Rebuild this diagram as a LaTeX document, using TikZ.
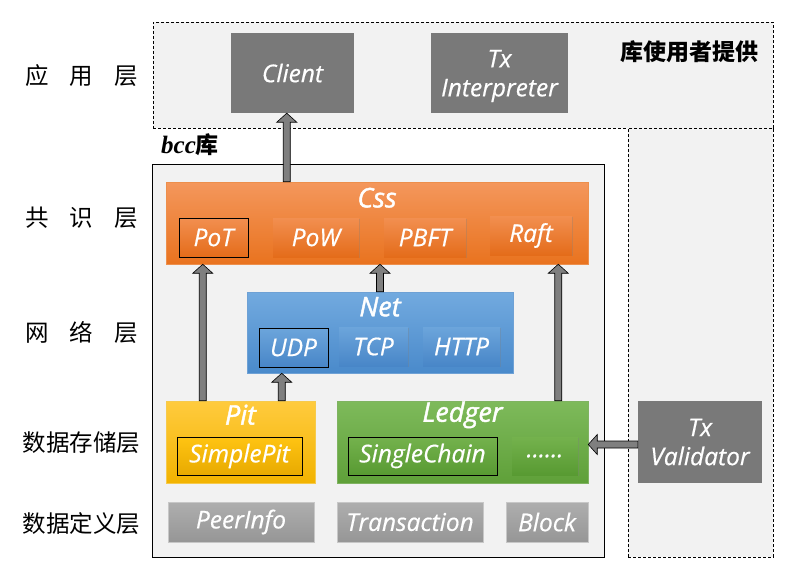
\documentclass[tikz,border=0pt]{standalone}
\usepackage{fontspec}
\setmainfont{Open Sans}[FakeBold=0.5]
\newfontfamily\titlefont[FakeBold=1.6]{Open Sans}
\newfontfamily\cjk{Noto Sans CJK SC}
\newfontfamily\bccfont{Liberation Serif}
\usetikzlibrary{shadows,calc}
\definecolor{bg}{HTML}{F2F2F2}
\definecolor{gbox}{HTML}{797979}
\definecolor{arrgray}{HTML}{7F7F7F}
\definecolor{orT}{HTML}{F4975C}
\definecolor{orB}{HTML}{E9731F}
\definecolor{orsT}{HTML}{F28F50}
\definecolor{orsB}{HTML}{E46C1A}
\definecolor{blT}{HTML}{72AADF}
\definecolor{blB}{HTML}{4A8ACB}
\definecolor{blsT}{HTML}{6CA5DB}
\definecolor{blsB}{HTML}{4886C8}
\definecolor{ywT}{HTML}{FFCB3E}
\definecolor{ywB}{HTML}{F2B300}
\definecolor{ywsT}{HTML}{FFC413}
\definecolor{ywsB}{HTML}{E8AA00}
\definecolor{grT}{HTML}{7EBA5B}
\definecolor{grB}{HTML}{5FA039}
\definecolor{grsT}{HTML}{74B24D}
\definecolor{grsB}{HTML}{589A32}
\definecolor{dgT}{HTML}{AEAEAE}
\definecolor{dgB}{HTML}{969696}
\newcommand\rbox[7]{\node[#1, minimum width={#5-#3}, minimum height={#6-#4}] (#2) at ({(#3+#5)/2},{(#4+#6)/2}) {#7};}
\newcommand\barrow[3]{%
  \coordinate (#1h) at ($(#3)!9pt!(#2)$);
  \draw[arrowst] ($(#2)!3.5pt!90:(#3)$) -- ($(#1h)!3.5pt!90:(#3)$) -- ($(#1h)!10pt!90:(#3)$) -- (#3)
    -- ($(#1h)!10pt!-90:(#3)$) -- ($(#1h)!3.5pt!-90:(#3)$) -- ($(#2)!3.5pt!-90:(#3)$) -- cycle;}
\tikzset{
  txt/.style={font=\itshape\fontsize{24.5}{29}\selectfont, text=white, align=center, inner sep=0pt},
  ttl/.style={font=\titlefont\itshape\fontsize{27}{30}\selectfont, text=white, inner sep=0pt},
  layer/.style={font=\cjk\fontsize{23.5}{28}\selectfont, text=black, inner sep=0pt},
  dashbox/.style={draw=black, dash pattern=on 3pt off 2pt, line width=0.6pt, fill=bg, inner sep=0pt},
  bccbox/.style={draw=black, line width=0.8pt, fill=bg, inner sep=0pt},
  userbox/.style={txt, fill=gbox},
  sh/.style={drop shadow={shadow xshift=1.3pt, shadow yshift=-1.3pt, opacity=0.35}},
  frame/.style={draw=black, line width=0.8pt},
  orbig/.style={txt, top color=orT, bottom color=orB, draw=orB!80!white, line width=0.5pt, sh},
  orsub/.style={txt, top color=orsT, bottom color=orsB, sh},
  blbig/.style={txt, top color=blT, bottom color=blB, draw=blB!80!white, line width=0.5pt, sh},
  blsub/.style={txt, top color=blsT, bottom color=blsB, sh},
  ywbig/.style={txt, top color=ywT, bottom color=ywB, draw=ywB!70!white, line width=0.5pt},
  ywsub/.style={txt, top color=ywsT, bottom color=ywsB, sh},
  grbig/.style={txt, top color=grT, bottom color=grB, draw=grB!80!white, line width=0.5pt},
  grsub/.style={txt, top color=grsT, bottom color=grsB, sh},
  dgbox/.style={txt, top color=dgT, bottom color=dgB, draw=black!22, line width=0.6pt},
  arrowst/.style={fill=arrgray, draw=black, line width=0.6pt, line join=miter},
}
\begin{document}
\begin{tikzpicture}[x=1pt,y=-1pt]
\useasboundingbox[fill=white] (0,0) rectangle (811,578);
% background regions
\rbox{dashbox}{user}{153}{22}{773}{128}{}
\rbox{dashbox}{uservert}{628}{128}{773}{557}{}
\rbox{bccbox}{bcc}{152}{164}{604}{557}{}
\node[anchor=west, inner sep=0pt] (bcclbl) at (161,145) {\bccfont\bfseries\itshape\fontsize{25}{28}\selectfont bcc\cjk\bfseries\upshape\fontsize{23}{28}\selectfont 库};
\node[layer, font=\cjk\bfseries\fontsize{23}{28}\selectfont, anchor=east] (userlbl) at (759,52) {库使用者提供};
% layer labels
\node[layer] (l1) at (81.5,76) {应\hspace{0.9em}用\hspace{0.9em}层};
\node[layer] (l2) at (81.5,218) {共\hspace{0.9em}识\hspace{0.9em}层};
\node[layer] (l3) at (81.5,333) {网\hspace{0.9em}络\hspace{0.9em}层};
\node[layer] (l4) at (81.5,443) {数据存储层};
\node[layer] (l5) at (81.5,524) {数据定义层};
% user provided
\rbox{userbox}{client}{231}{33}{354}{113}{Client}
\rbox{userbox}{txint}{431}{33}{568}{113}{}
\node[txt] (txintt) at ($(txint.center)+(0,3)$) {Tx\\Interpreter};
\rbox{userbox}{txval}{638}{401}{762}{483}{Tx\\Validator}
% consensus
\rbox{orbig}{css}{166}{182}{588}{264}{}
\node[ttl] (csst) at ($(css.north)+(0,16)$) {Css};
\rbox{orsub,frame}{pot}{179}{218}{248}{257}{PoT}
\rbox{orsub}{pow}{273}{218}{359}{257}{PoW}
\rbox{orsub}{pbft}{384}{218}{466}{257}{PBFT}
\rbox{orsub}{raft}{490}{216}{572}{255}{Raft}
% net
\rbox{blbig}{net}{247}{292}{513}{373}{}
\node[ttl] (nett) at ($(net.north)+(0,15)$) {Net};
\rbox{blsub,frame}{udp}{259}{328}{328}{367}{UDP}
\rbox{blsub}{tcp}{339}{327}{408}{366}{TCP}
\rbox{blsub}{http}{423}{327}{500}{366}{HTTP}
% storage
\rbox{ywbig}{pit}{166}{401}{315}{483}{}
\node[ttl] (pitt) at ($(pit.north)+(0,14)$) {Pit};
\rbox{ywsub,frame}{simplepit}{177}{437}{302}{475}{SimplePit}
\rbox{grbig}{ledger}{337}{401}{588}{483}{}
\node[ttl] (ledgert) at ($(ledger.north)+(0,14)$) {Ledger};
\rbox{grsub,frame}{single}{348}{437}{497}{475}{SingleChain}
\rbox{grsub}{more}{512}{437}{578}{475}{......}
% data definition
\rbox{dgbox}{peer}{168}{502}{314}{542}{PeerInfo}
\rbox{dgbox}{trans}{337}{502}{483}{542}{Transaction}
\rbox{dgbox}{block}{506}{502}{588}{542}{Block}
% arrows
\coordinate (a1s) at ([xshift=121pt]css.north west);
\coordinate (a1t) at (a1s |- client.south);
\barrow{a1}{a1s}{a1t}
\coordinate (a2s) at ([xshift=37pt]pit.north west);
\coordinate (a2t) at (a2s |- css.south);
\barrow{a2}{a2s}{a2t}
\coordinate (a3s) at ([xshift=116pt]pit.north west);
\coordinate (a3t) at (a3s |- net.south);
\barrow{a3}{a3s}{a3t}
\coordinate (a4s) at (net.north);
\coordinate (a4t) at (net.north |- css.south);
\barrow{a4}{a4s}{a4t}
\coordinate (a5s) at ([xshift=-30pt]ledger.north east);
\coordinate (a5t) at (a5s |- css.south);
\barrow{a5}{a5s}{a5t}
\coordinate (a6s) at ([yshift=-2.5pt]txval.west);
\coordinate (a6t) at (a6s -| ledger.east);
\barrow{a6}{a6s}{a6t}
\end{tikzpicture}
\end{document}
